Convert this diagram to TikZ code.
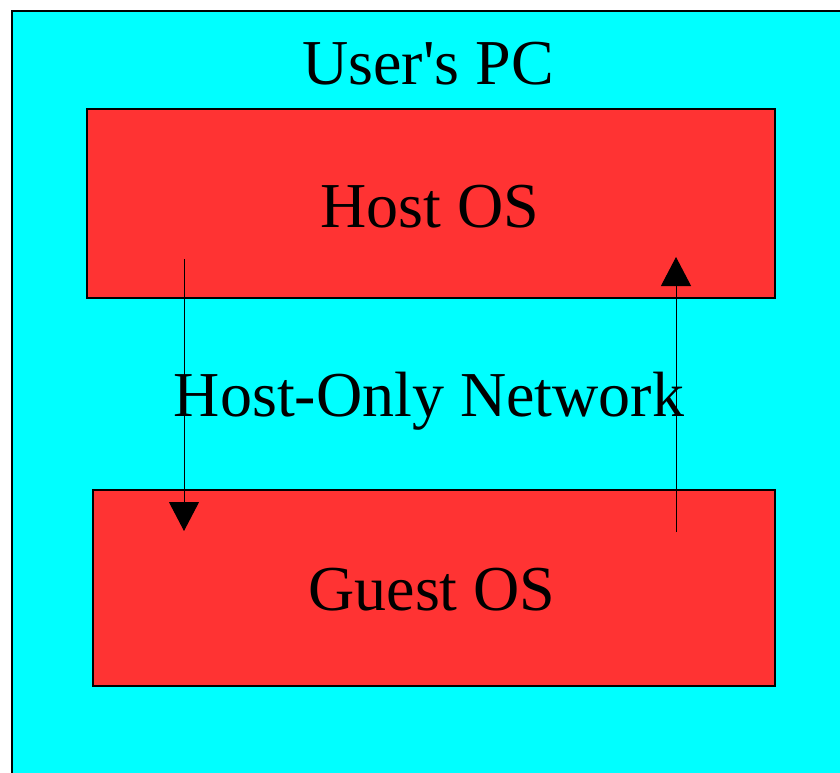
\documentclass[tikz,border=0pt]{standalone}
\usepackage{fontspec}
\setmainfont{Liberation Serif}
\usetikzlibrary{arrows.meta}
\definecolor{pcfill}{HTML}{00FFFF}
\definecolor{osfill}{HTML}{FF3333}
\tikzset{
  box/.style={draw=black, line width=1.6pt, anchor=north west, inner sep=0pt},
  caption/.style={anchor=base, inner sep=0pt, font=\fontsize{64}{70}\selectfont},
  flow/.style={line width=1pt, -{Triangle[width=30pt,length=29pt]}}
}
\begin{document}
\begin{tikzpicture}[x=1pt,y=-1pt]
  \useasboundingbox (0,0) rectangle (840,773);
  \clip (0,0) rectangle (840,773);
  % outer machine
  \node[box, fill=pcfill, minimum width=840pt, minimum height=780pt] (pc) at (11,10) {};
  \node[caption] (pclabel) at (428,85) {User\textquotesingle s PC};
  % host and guest systems
  \node[box, fill=osfill, minimum width=688pt, minimum height=189pt] (host) at (86,108) {};
  \node[caption] (hostlabel) at (430,227) {Host OS};
  \node[box, fill=osfill, minimum width=682pt, minimum height=196pt] (guest) at (92,489) {};
  \node[caption] (guestlabel) at (432,610) {Guest OS};
  \node[caption] (netlabel) at (429,416) {Host-Only Network};
  % traffic over the host-only network
  \coordinate (downstart) at (184,259);
  \coordinate (downend) at (184,531);
  \coordinate (upstart) at (676,532);
  \coordinate (upend) at (676,257);
  \draw[flow] (downstart) -- (downend);
  \draw[flow] (upstart) -- (upend);
\end{tikzpicture}
\end{document}
